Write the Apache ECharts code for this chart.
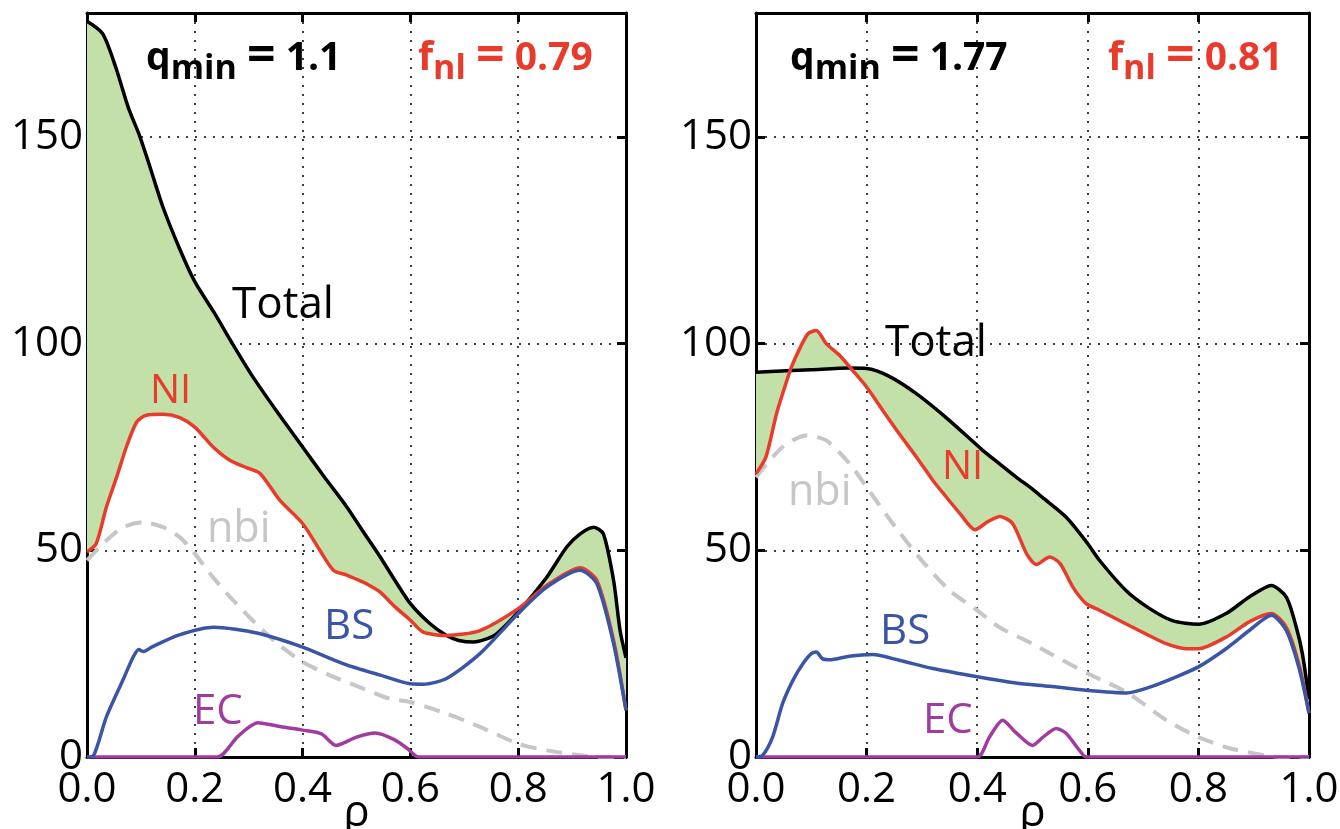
<!DOCTYPE html>
<html>
<head>
<meta charset="utf-8">
<script src="https://cdn.jsdelivr.net/npm/echarts@6/dist/echarts.min.js"></script>
<style>
html,body{margin:0;padding:0;background:#fff;}
#chart{width:1340px;height:829px;}
</style>
</head>
<body>
<div id="chart"></div>
<script>
// ---- Data (rho, current density) ----
var xTicks = [0, 0.2, 0.4, 0.6, 0.8, 1.0];
var yTicks = [0, 50, 100, 150];

// Left panel: qmin = 1.1, fNI = 0.79
var totalL = [[0,178],[0.029,175],[0.053,167],[0.077,157],[0.097,150.5],[0.117,142.7],[0.141,133],[0.173,122.6],[0.2,115],[0.236,107.5],[0.268,100.4],[0.305,92.5],[0.35,84],[0.4,75],[0.44,67.8],[0.482,60.5],[0.51,55],[0.544,48.4],[0.57,43],[0.6,37.1],[0.636,32.3],[0.667,29.4],[0.69,28.2],[0.717,27.8],[0.74,28.5],[0.76,29.8],[0.8,35.1],[0.853,43.5],[0.89,50.8],[0.915,54],[0.94,55.6],[0.958,54],[0.977,42.7],[0.989,30.6],[1.0,24]];
var niL = [[0,49.6],[0.017,51.6],[0.036,60.5],[0.055,67.7],[0.073,75],[0.092,81],[0.11,82.7],[0.141,82.9],[0.172,82.1],[0.2,79.8],[0.234,75],[0.265,71.8],[0.296,70],[0.321,68.6],[0.358,62.1],[0.4,56.5],[0.432,50],[0.457,45.2],[0.482,44],[0.5,43],[0.52,41.8],[0.544,39.9],[0.57,36.5],[0.6,33.1],[0.624,30.2],[0.667,29.4],[0.729,30.6],[0.8,35.9],[0.853,41.5],[0.915,45.8],[0.946,42.7],[0.977,28.2],[1.0,11.3]];
var bsL = [[0,0],[0.012,0.3],[0.036,9.7],[0.068,19],[0.085,24],[0.096,26],[0.105,25.5],[0.12,26.6],[0.17,29.5],[0.235,31.4],[0.315,30],[0.4,26.6],[0.475,22.6],[0.544,19.8],[0.6,17.7],[0.624,17.6],[0.667,19],[0.729,25],[0.8,34.7],[0.853,41.1],[0.915,45.2],[0.946,41.9],[0.977,27.4],[1.0,11.3]];
var nbiL = [[0,47.6],[0.036,52.4],[0.067,55.6],[0.104,56.8],[0.141,55.6],[0.172,53.2],[0.2,49.2],[0.228,44.4],[0.26,39.5],[0.3,34],[0.35,27.8],[0.4,23],[0.45,19.8],[0.5,17.2],[0.562,14.1],[0.6,13.3],[0.667,10.5],[0.729,7.3],[0.8,3.2],[0.853,1.6],[0.915,0.4],[0.95,0],[1.0,0]];
var ecL = [[0,0],[0.242,0],[0.28,5],[0.317,8.3],[0.36,7.3],[0.4,6.5],[0.435,5.6],[0.462,2.8],[0.5,4.8],[0.535,5.8],[0.57,4.2],[0.595,2],[0.615,0],[1.0,0]];

// Right panel: qmin = 1.77, fNI = 0.81
var totalR = [[0,93.1],[0.1,93.7],[0.169,94.1],[0.2,94],[0.241,92.1],[0.29,87.9],[0.35,81.4],[0.41,74.2],[0.44,71],[0.47,67.8],[0.5,64.8],[0.518,62.8],[0.561,58],[0.6,51.6],[0.621,47.6],[0.669,40.3],[0.712,35.9],[0.753,33],[0.8,32.1],[0.85,34.7],[0.892,38.7],[0.932,41.5],[0.959,38.7],[0.977,31.4],[0.988,25],[1.0,14]];
var niR = [[0,68.5],[0.018,72.6],[0.037,83],[0.052,89.5],[0.064,94.3],[0.079,98.8],[0.094,102.4],[0.109,103.2],[0.127,100],[0.151,97.2],[0.175,93.5],[0.2,89.5],[0.229,83.9],[0.259,78.2],[0.29,72.6],[0.32,66.9],[0.344,62.9],[0.37,58.7],[0.396,55],[0.42,57],[0.441,58.2],[0.464,56.5],[0.49,49],[0.507,46.6],[0.531,48.4],[0.55,46.8],[0.573,41.1],[0.597,37.1],[0.621,35.5],[0.681,31.4],[0.742,27.4],[0.778,26.2],[0.8,26.2],[0.85,29],[0.892,32.7],[0.932,34.7],[0.959,31.4],[0.983,21.8],[1.0,10.6]];
var bsR = [[0,0],[0.012,0.4],[0.03,4.8],[0.048,12.9],[0.067,18.6],[0.085,22.6],[0.1,25],[0.109,25.4],[0.12,23.8],[0.133,23.5],[0.169,24.4],[0.211,24.8],[0.259,23.4],[0.32,21.4],[0.4,19.4],[0.47,17.9],[0.531,17.1],[0.6,16.1],[0.67,15.5],[0.712,16.9],[0.76,19.4],[0.8,21.8],[0.85,26.2],[0.892,30.6],[0.932,34.3],[0.959,30.6],[0.983,21],[1.0,10.6]];
var nbiR = [[0,67.7],[0.048,75],[0.091,77.8],[0.127,76.6],[0.169,71],[0.2,65.3],[0.25,56],[0.3,47.5],[0.35,40.3],[0.4,35.5],[0.44,31.4],[0.5,27.4],[0.531,25.1],[0.6,20.2],[0.67,15.7],[0.742,8.9],[0.8,4.8],[0.86,2],[0.92,0.4],[0.95,0],[1.0,0]];
var ecR = [[0,0],[0.4,0],[0.422,4.8],[0.446,8.9],[0.47,5.9],[0.5,2.8],[0.519,4.8],[0.543,6.9],[0.561,5.7],[0.585,1.6],[0.597,0],[1.0,0]];

var panelTexts = [
  {q: '1.1', f: '0.79'},
  {q: '1.77', f: '0.81'}
];

// ---- Styles ----
var FONT = 'Open Sans';
var C_TOTAL = '#000000', C_NI = '#e83b2c', C_BS = '#3a55a6', C_NBI = '#c6c6c6', C_EC = '#a03ca0', C_FILL = '#c3e0a9';

var chart = echarts.init(document.getElementById('chart'), null, {renderer: 'canvas'});

var GRID_LINE = {color: '#000', width: 1.5, type: [2, 7]};
var AXIS_LINE = {show: true, onZero: false, lineStyle: {color: '#000', width: 3}};
var TICK = {show: true, inside: true, length: 9, lineStyle: {color: '#000', width: 3}};

function mainX(gi) {
  return {
    type: 'value', gridIndex: gi, position: 'bottom', min: 0, max: 1, interval: 0.2,
    name: 'ρ', nameLocation: 'middle', nameGap: 34, nameMoveOverlap: false,
    nameTextStyle: {fontFamily: FONT, fontSize: 44, color: '#000'},
    axisLine: AXIS_LINE, axisTick: TICK,
    axisLabel: {show: true, margin: 12, fontFamily: FONT, fontSize: 42, color: '#000',
      formatter: function (v) { return v.toFixed(1); }},
    splitLine: {show: true, lineStyle: GRID_LINE}
  };
}
function topX(gi) {
  return {
    type: 'value', gridIndex: gi, position: 'top', min: 0, max: 1, interval: 0.2,
    axisLine: AXIS_LINE, axisTick: TICK, axisLabel: {show: false}, splitLine: {show: false}
  };
}
function mainY(gi) {
  return {
    type: 'value', gridIndex: gi, position: 'left', min: 0, max: 180, interval: 50,
    axisLine: AXIS_LINE, axisTick: TICK,
    axisLabel: {show: true, margin: 4, fontFamily: FONT, fontSize: 42, color: '#000', showMaxLabel: false},
    splitLine: {show: true, lineStyle: GRID_LINE}
  };
}
function rightY(gi) {
  return {
    type: 'value', gridIndex: gi, position: 'right', min: 0, max: 180, interval: 50,
    axisLine: AXIS_LINE, axisTick: TICK, axisLabel: {show: false}, splitLine: {show: false}
  };
}

function fillSeries(ai, total, ni) {
  return {
    type: 'custom', xAxisIndex: ai, yAxisIndex: ai, data: [[0, 0]], z: 1, silent: true, clip: true,
    renderItem: function (params, api) {
      var pts = [];
      for (var i = 0; i < total.length; i++) pts.push(api.coord(total[i]));
      for (var j = ni.length - 1; j >= 0; j--) pts.push(api.coord(ni[j]));
      return {type: 'polygon', shape: {points: pts}, style: {fill: C_FILL, stroke: null}};
    }
  };
}
function lineSeries(ai, data, color, width, z, dashed) {
  return {
    type: 'line', xAxisIndex: ai, yAxisIndex: ai, data: data, symbol: 'none', smooth: 0.25,
    z: z, silent: true, clip: true,
    lineStyle: {color: color, width: width, type: dashed ? [16, 10] : 'solid', cap: 'butt', join: 'round'}
  };
}

function label(x, y, text, color, size) {
  return {type: 'text', left: x, top: y, z: 100, silent: true,
    style: {text: text, fill: color, font: size + 'px "' + FONT + '"'}};
}
function richLabel(x, y, main, sub, val, color) {
  return {type: 'text', left: x, top: y, z: 100, silent: true,
    style: {
      text: '{a|' + main + '}{s|' + sub + '}{a| }{e|=}{a| ' + val + '}',
      rich: {
        a: {fontFamily: FONT, fontWeight: 'bold', fontSize: 39, lineHeight: 44, verticalAlign: 'bottom', padding: [0, 0, 8, 0], fill: color},
        s: {fontFamily: FONT, fontWeight: 'bold', fontSize: 34, lineHeight: 36, verticalAlign: 'bottom', fill: color},
        e: {fontFamily: FONT, fontWeight: 'bold', fontSize: 50, lineHeight: 52, verticalAlign: 'bottom', padding: [0, 0, 4, 0], fill: color}
      }
    }};
}

var option = {
  backgroundColor: '#fff',
  animation: false,
  grid: [
    {left: 87, top: 13, width: 539, height: 744, show: false, containLabel: false, outerBoundsMode: 'none'},
    {left: 756, top: 13, width: 553, height: 744, show: false, containLabel: false, outerBoundsMode: 'none'}
  ],
  xAxis: [mainX(0), mainX(1), topX(0), topX(1)],
  yAxis: [mainY(0), mainY(1), rightY(0), rightY(1)],
  series: [
    fillSeries(0, totalL, niL),
    lineSeries(0, nbiL, C_NBI, 4, 3, true),
    lineSeries(0, ecL, C_EC, 3.5, 4, false),
    lineSeries(0, totalL, C_TOTAL, 3.5, 5, false),
    lineSeries(0, niL, C_NI, 3.5, 6, false),
    lineSeries(0, bsL, C_BS, 3.5, 7, false),
    fillSeries(1, totalR, niR),
    lineSeries(1, nbiR, C_NBI, 4, 3, true),
    lineSeries(1, ecR, C_EC, 3.5, 4, false),
    lineSeries(1, totalR, C_TOTAL, 3.5, 5, false),
    lineSeries(1, niR, C_NI, 3.5, 6, false),
    lineSeries(1, bsR, C_BS, 3.5, 7, false)
  ],
  graphic: [
    richLabel(146, 32, 'q', 'min', panelTexts[0].q, '#000'),
    richLabel(418, 32, 'f', 'nl', panelTexts[0].f, C_NI),
    label(232, 283, 'Total', '#000', 44),
    label(150, 372, 'NI', C_NI, 40),
    label(207, 508, 'nbi', C_NBI, 43),
    label(324, 606, 'BS', C_BS, 42),
    label(193, 691, 'EC', C_EC, 42),
    richLabel(790, 32, 'q', 'min', panelTexts[1].q, '#000'),
    richLabel(1108, 32, 'f', 'nl', panelTexts[1].f, C_NI),
    label(885, 321, 'Total', '#000', 44),
    label(942, 448, 'NI', C_NI, 40),
    label(788, 471, 'nbi', C_NBI, 43),
    label(880, 611, 'BS', C_BS, 42),
    label(923, 700, 'EC', C_EC, 42)
  ]
};
option.xAxis[1].gridIndex = 1;
option.xAxis[2].gridIndex = 0;
option.xAxis[3].gridIndex = 1;
chart.setOption(option);
</script>
</body>
</html>
